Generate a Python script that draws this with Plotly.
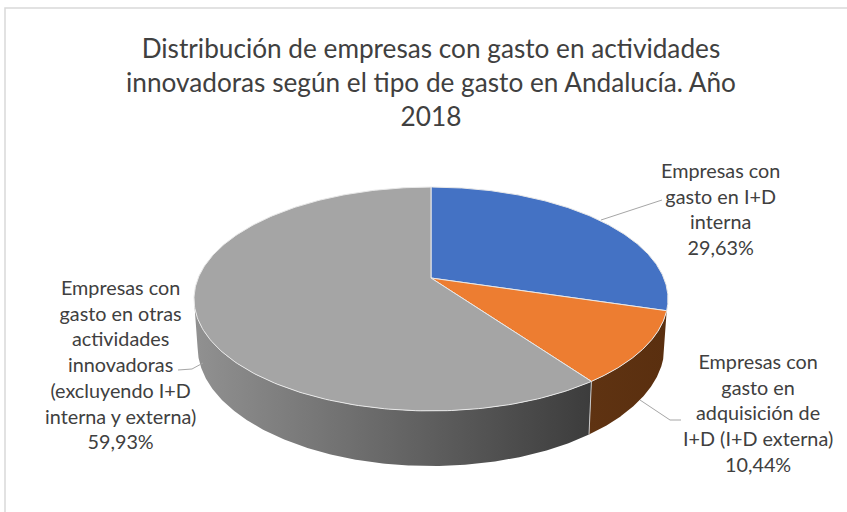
import numpy as np
import plotly.graph_objects as go

categories = ["Empresas con<br>gasto en I+D<br>interna",
              "Empresas con<br>gasto en<br>adquisición de<br>I+D (I+D externa)",
              "Empresas con<br>gasto en otras<br>actividades<br>innovadoras<br>(excluyendo I+D<br>interna y externa)"]
values = [29.63, 10.44, 59.93]
value_labels = ["29,63%", "10,44%", "59,93%"]
title_text = "Distribución de empresas con gasto en actividades<br>innovadoras según el tipo de gasto en Andalucía. Año<br>2018"

top_colors = ["#4472c4", "#ed7d31", "#a5a5a5"]
wall_gradients = [("#2f5597", "#2a4d88"), ("#5f3312", "#5a2f0f"), ("#919191", "#3c3c3c")]
label_pos = [(720, 208), (758, 412), (120, 364)]
leaders = [[(601, 220), (662, 200)],
           [(640, 400), (670, 420), (681, 420)],
           [(203, 363), (192, 369), (178, 370)]]

CX, CY, A, B, K = 431.0, 278.0, 232.8, 108.0, 0.1875
WALL_S, WALL_CY, WALL_B = 0.985, 324.5, 115.0
WALL_END = np.radians(259)


def project(a, cx, cy, ax, bx):
    u, v = np.sin(a), -np.cos(a)
    d = 1 - K * v
    return cx + ax * u / d, cy + bx * v / d


def top_arc(a0, a1):
    a = np.linspace(a0, a1, 240)
    return project(a, CX, CY, A, B)


def bottom_arc(a0, a1):
    a = np.linspace(a0, a1, 240)
    return project(a, CX, WALL_CY, A * WALL_S, WALL_B)


fig = go.Figure()
edges = 2 * np.pi * np.concatenate([[0], np.cumsum(values)]) / sum(values)

# side walls, front part only
for i in [1, 2]:
    a0, a1 = edges[i], edges[i + 1]
    if i == 2:
        a1 = WALL_END
    tx, ty = top_arc(a0, a1)
    bx, by = bottom_arc(a0, a1)
    left, right = wall_gradients[i]
    fig.add_trace(go.Scatter(
        x=np.concatenate([tx, bx[::-1], tx[:1]]), y=np.concatenate([ty, by[::-1], ty[:1]]),
        mode="lines", line=dict(width=0), fill="toself",
        fillgradient=dict(type="horizontal", colorscale=[[0, left], [1, right]]),
        hoverinfo="skip", showlegend=False))

# seam between the two visible walls
sx, sy = top_arc(edges[2], edges[2])
sbx, sby = bottom_arc(edges[2], edges[2])
fig.add_trace(go.Scatter(x=[sx[0], sbx[0]], y=[sy[0], sby[0]], mode="lines",
                         line=dict(color="#c9c9c9", width=1), hoverinfo="skip", showlegend=False))

# top faces
for i, col in enumerate(top_colors):
    tx, ty = top_arc(edges[i], edges[i + 1])
    fig.add_trace(go.Scatter(
        x=np.concatenate([[CX], tx, [CX]]), y=np.concatenate([[CY], ty, [CY]]),
        mode="lines", line=dict(color="#e8e8e8", width=1), fill="toself", fillcolor=col,
        name=categories[i].replace("<br>", " "), hoverinfo="name", showlegend=False))

# leader lines
for pts in leaders:
    fig.add_trace(go.Scatter(x=[p[0] for p in pts], y=[p[1] for p in pts], mode="lines",
                             line=dict(color="#a6a6a6", width=1), hoverinfo="skip", showlegend=False))

ann = [dict(x=431, y=81.5, text=title_text, font=dict(size=26.2, color="#404040"))]
for c, v, (x, y) in zip(categories, value_labels, label_pos):
    ann.append(dict(x=x, y=y, text=c + "<br>" + v, font=dict(size=19.8, color="#404040")))

fig.update_layout(
    width=847, height=512, margin=dict(l=0, r=0, t=0, b=0),
    paper_bgcolor="white", plot_bgcolor="white",
    font=dict(family="Lato"), showlegend=False,
    xaxis=dict(range=[0, 847], visible=False, fixedrange=True),
    yaxis=dict(range=[512, 0], visible=False, fixedrange=True),
    annotations=[dict(a, xref="x", yref="y", showarrow=False, xanchor="center", yanchor="middle", align="center") for a in ann],
    shapes=[dict(type="rect", xref="x", yref="y", x0=5, y0=8, x1=860, y1=530,
                 line=dict(color="#d9d9d9", width=1.5), layer="below")],
)
fig.write_html("out.html", config=dict(displayModeBar=False),
               post_script="document.body.style.margin='0';document.documentElement.style.overflow='hidden';")
